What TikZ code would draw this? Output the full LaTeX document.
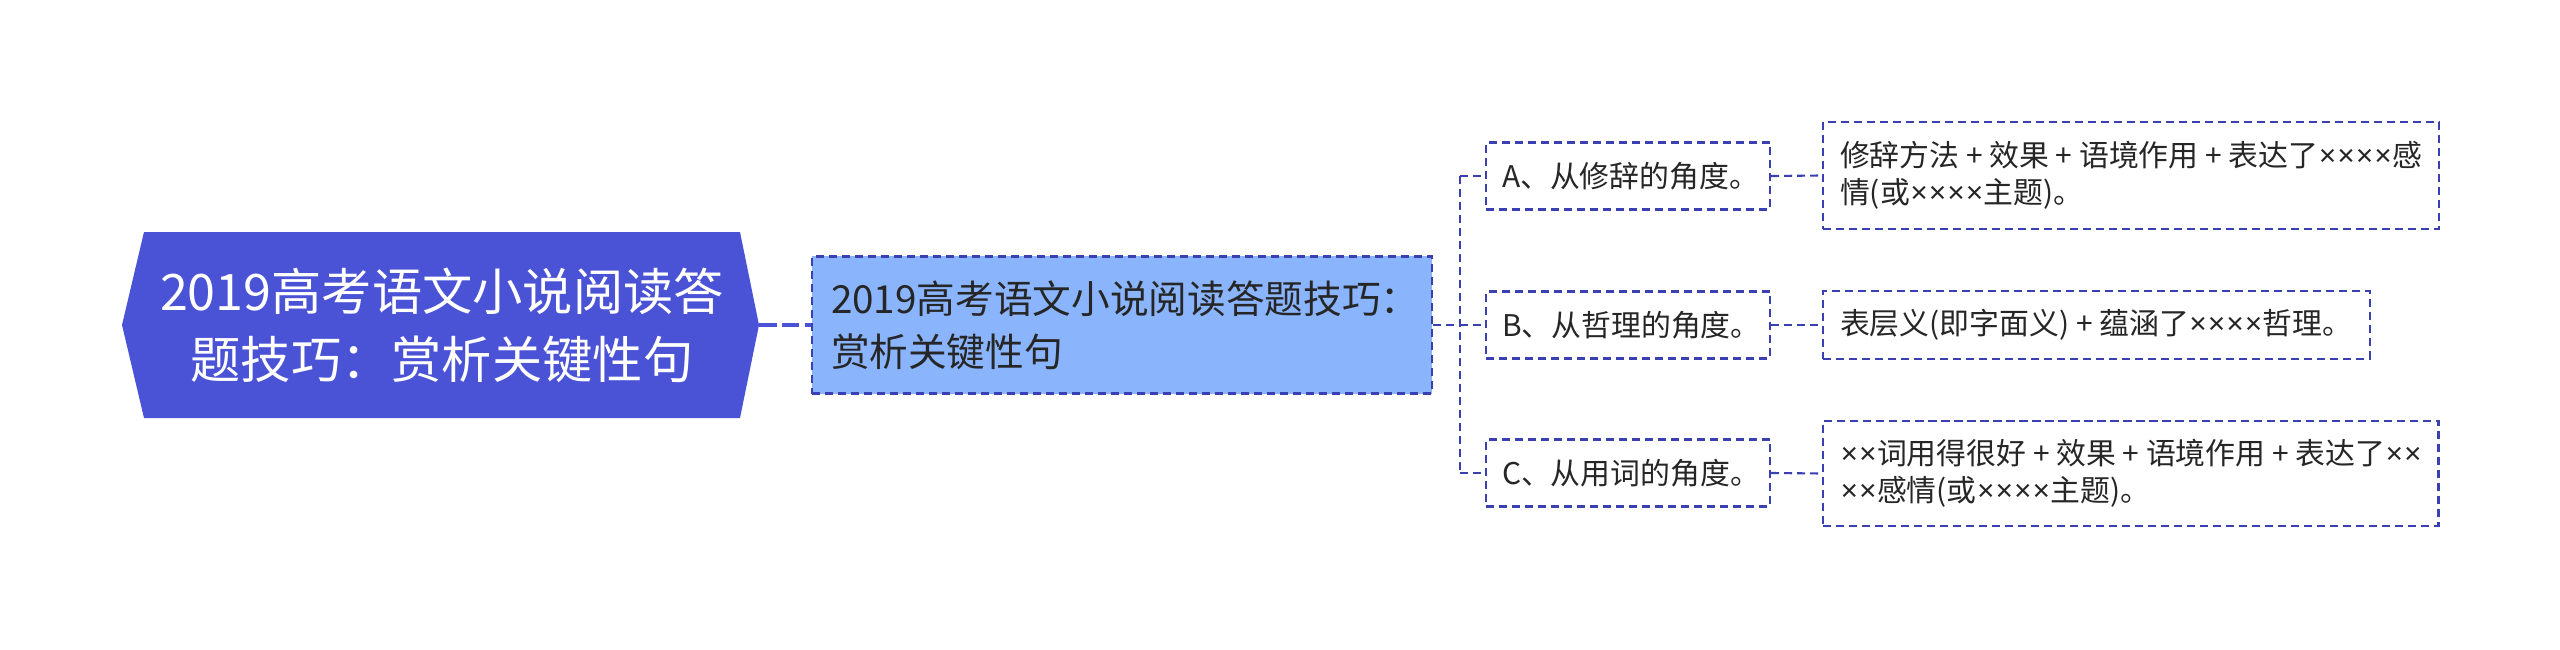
\documentclass[tikz,border=0pt]{standalone}
\usepackage{fontspec}
\setmainfont{Noto Sans CJK SC}
\newfontfamily\latfont{Noto Sans}
\newcommand\mal{{\latfont\hspace{0.2pt}×\hspace{0.2pt}}}
\usetikzlibrary{calc}

\definecolor{wurzelblau}{RGB}{74,82,214}
\definecolor{hellblau}{RGB}{138,180,252}
\definecolor{randblau}{RGB}{58,64,178}
\definecolor{textgrau}{RGB}{38,38,38}

\tikzset{
  strich/.style={draw=randblau, line width=0.6pt, dash pattern=on 2.3pt off 1.4pt},
  wurzel/.style={text=white, align=center, minimum width=5.96cm, minimum height=1.86cm, inner sep=0pt, font=\fontsize{14.3}{19.3}\selectfont},
  haupt/.style={strich, fill=hellblau, text=textgrau, align=left, text width=5.82cm, inner xsep=0.19cm, minimum height=1.37cm, font=\fontsize{11}{15}\selectfont},
  zweig/.style={strich, text=textgrau, align=left, text width=2.52cm, inner xsep=0.16cm, minimum height=0.67cm, font=\fontsize{8.5}{10.5}\selectfont},
  blatt/.style={strich, text=textgrau, align=left, anchor=west, inner xsep=0.17cm, minimum height=0.68cm, font=\fontsize{8.5}{10.5}\selectfont},
}

\begin{document}
\begin{tikzpicture}
\useasboundingbox (0,0) rectangle (25.6,6.49);

%WURZEL (links)
\coordinate (mitte) at (4.42,3.24);
\fill [wurzelblau] ($(mitte)+(-3.20,0)$) -- ($(mitte)+(-2.98,0.93)$) -- ($(mitte)+(2.98,0.93)$)
  -- ($(mitte)+(3.17,0)$) coordinate (spitze) -- ($(mitte)+(2.98,-0.93)$) -- ($(mitte)+(-2.98,-0.93)$) -- cycle;
\node [wurzel] (wurzel) at (mitte) {2019高考语文小说阅读答\\题技巧：赏析关键性句};

%HAUPTTHEMA
\node [haupt] (haupt) at (11.22,3.24) {2019高考语文小说阅读答题技巧：\\赏析关键性句};
\draw [draw=wurzelblau, line width=1pt, dash pattern=on 5pt off 1.5pt] (spitze) -- (haupt.west);

%ZWEIGE A, B, C
\node [zweig] (zweigA) at (16.28,4.73) {A、从修辞的角度。};
\node [zweig] (zweigB) at (16.28,3.24) {B、从哲理的角度。};
\node [zweig] (zweigC) at (16.28,1.76) {C、从用词的角度。};

%BLAETTER
\node [blatt, minimum height=1.07cm] (blattA) at (18.22,4.735) {修辞方法 + 效果 + 语境作用 + 表达了\mal\mal\mal\mal 感\\情(或\mal\mal\mal\mal 主题)。};
\node [blatt] (blattB) at (18.22,3.24) {表层义(即字面义) + 蕴涵了\mal\mal\mal\mal 哲理。};
\node [blatt, minimum height=1.05cm] (blattC) at (18.22,1.755) {\mal\mal 词用得很好 + 效果 + 语境作用 + 表达了\mal\mal\\\mal\mal 感情(或\mal\mal\mal\mal 主题)。};

%VERBINDUNGEN
\draw [strich] (haupt.east) -- ++(0.27,0) coordinate (gabel);
\draw [strich] (gabel |- zweigA.west) -- (gabel |- zweigC.west);
\foreach \z in {A,B,C} {
  \draw [strich] (gabel |- zweig\z.west) -- (zweig\z.west);
  \draw [strich] (zweig\z.east) -- (blatt\z.west);
}

\end{tikzpicture}
\end{document}
